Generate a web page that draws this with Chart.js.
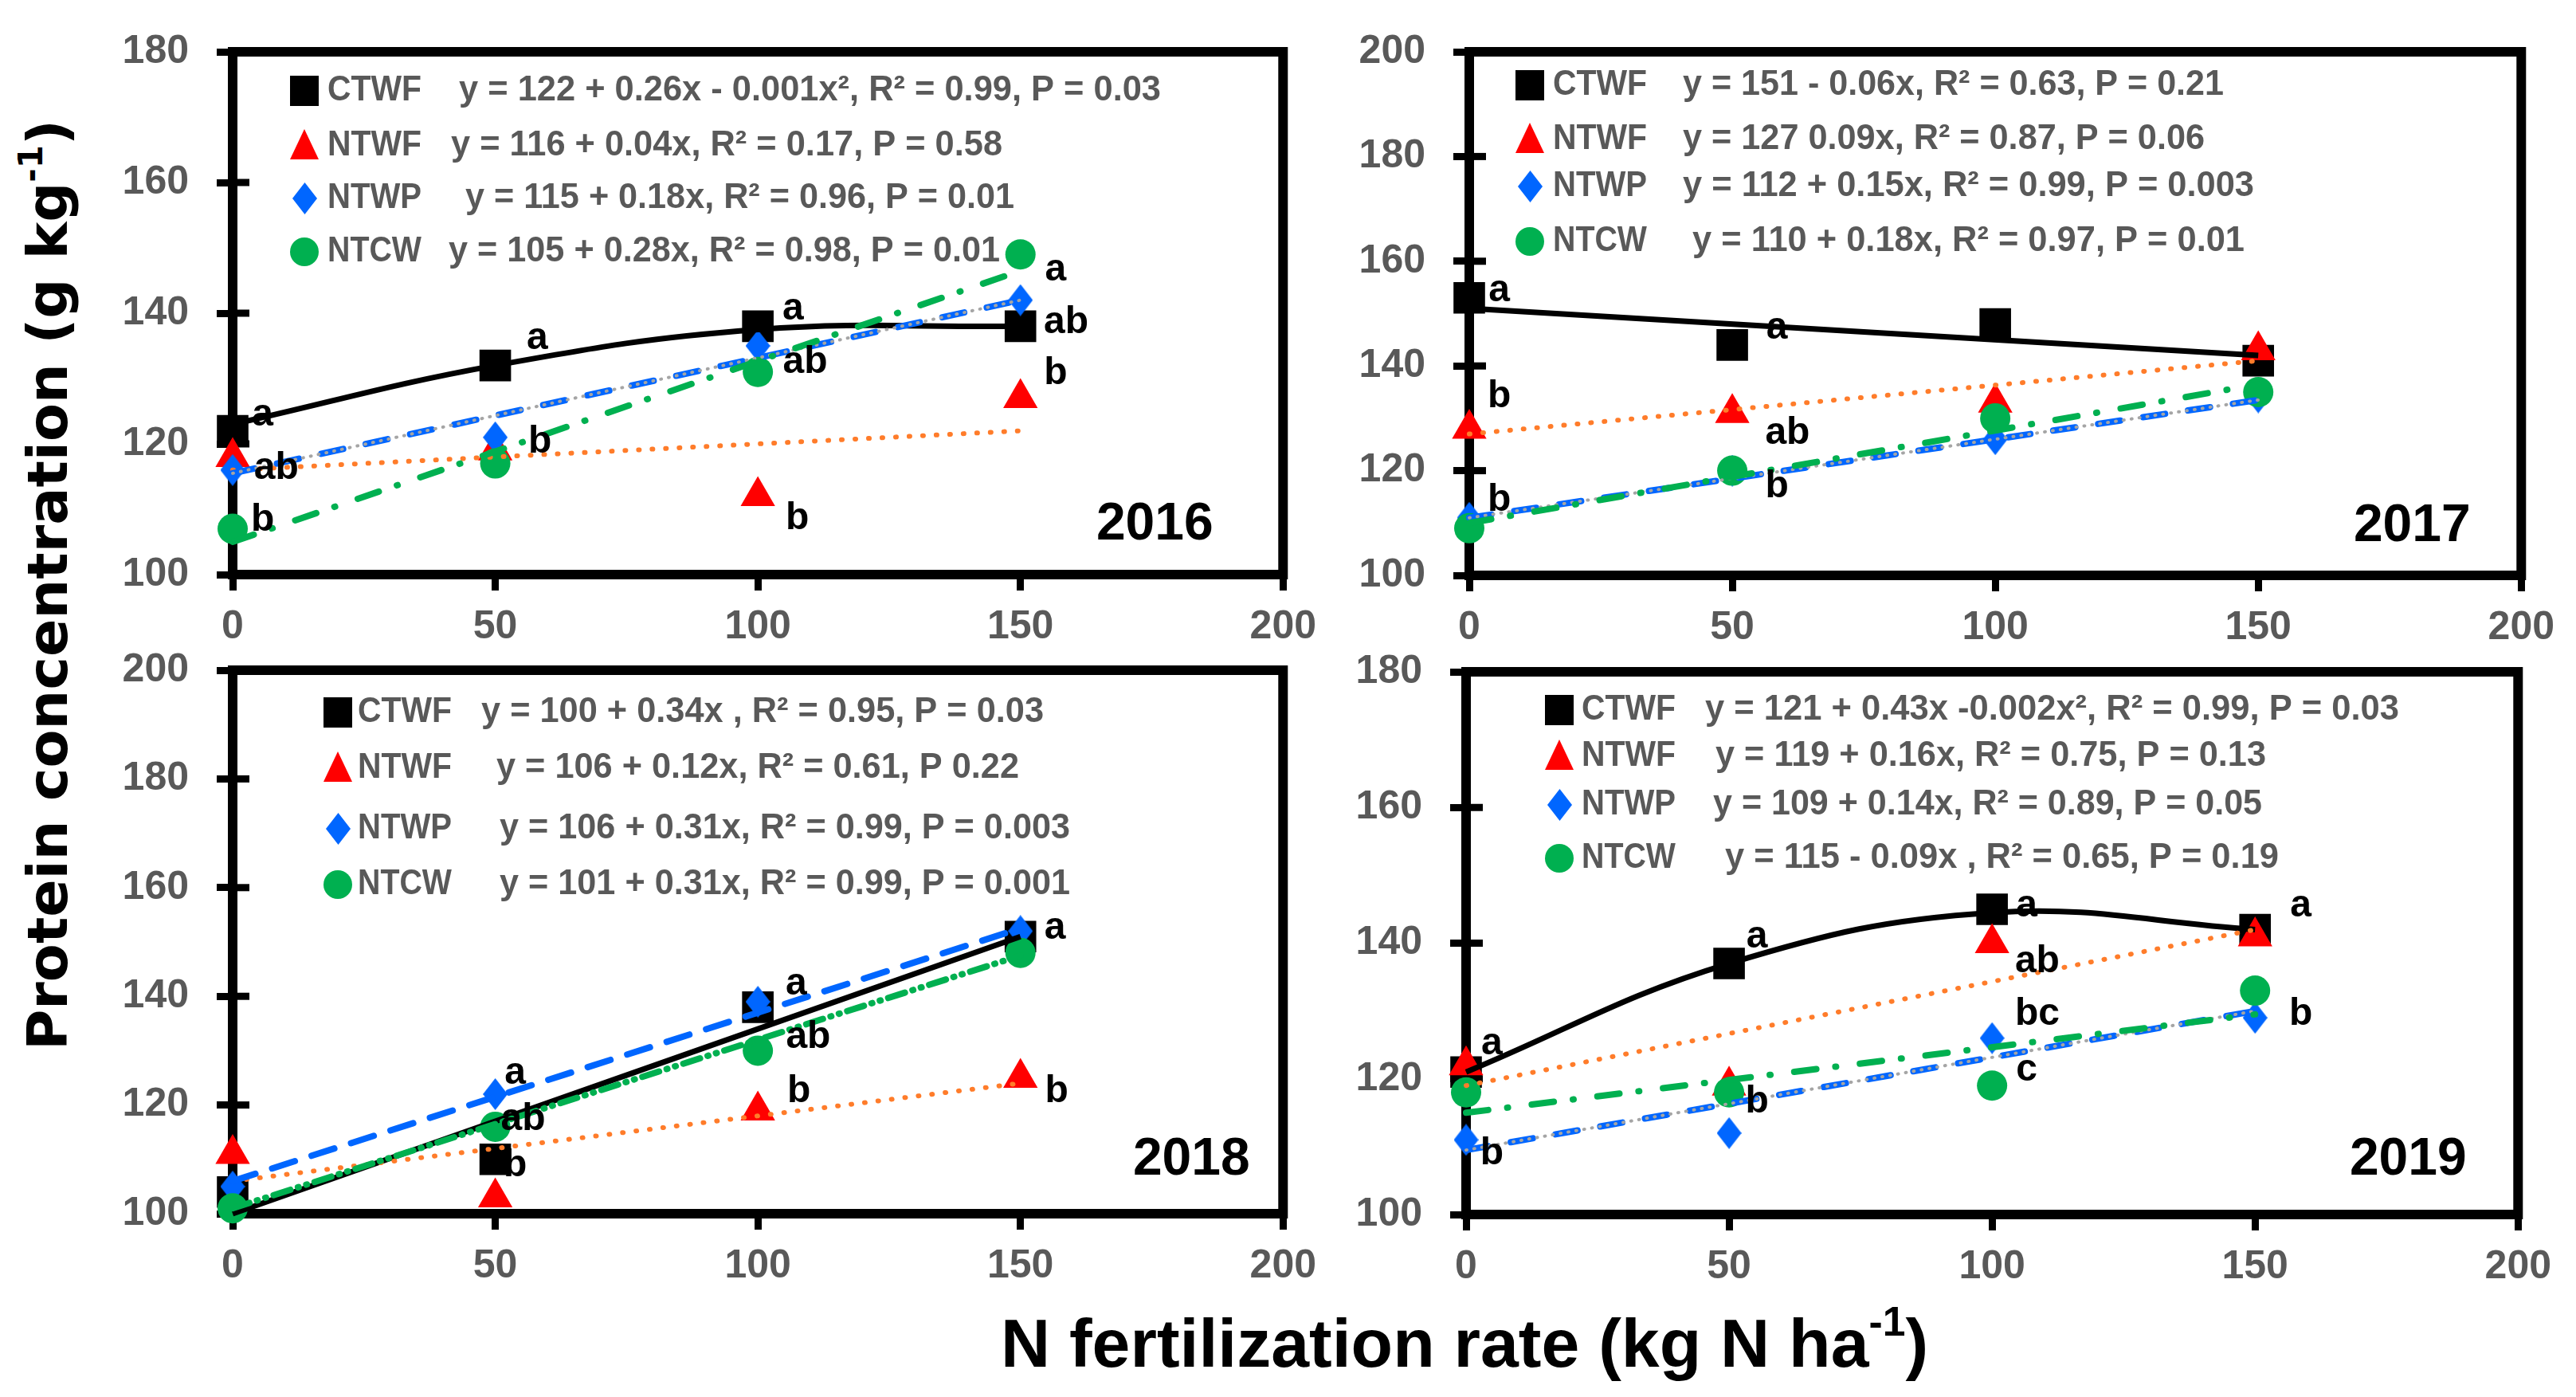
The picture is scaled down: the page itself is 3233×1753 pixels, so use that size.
<!DOCTYPE html>
<html>
<head>
<meta charset="utf-8">
<script src="https://cdn.jsdelivr.net/npm/chart.js@4.4.1/dist/chart.umd.min.js"></script>
<style>
  html, body { margin: 0; padding: 0; background: #fff; }
  body { width: 3233px; height: 1753px; position: relative; overflow: hidden; }
  canvas { position: absolute; }
  .ytitle {
    position: absolute; left: 60px; top: 734px;
    transform: translate(-50%, -50%) rotate(-90deg);
    font: bold 70px "DejaVu Sans", sans-serif; white-space: nowrap; color: #000;
  }
  .xtitle {
    position: absolute; left: 1838px; top: 1642px; transform: translateX(-50%);
    font: bold 86px "Liberation Sans", Arial, sans-serif; line-height: 86px;
    white-space: nowrap; color: #000;
  }
  sup { font-size: 0.6em; line-height: 0; vertical-align: 0.75em; }
</style>
</head>
<body>
<canvas id="c16"></canvas>
<canvas id="c17"></canvas>
<canvas id="c18"></canvas>
<canvas id="c19"></canvas>
<div class="ytitle">Protein concentration (g kg<sup>-1</sup>)</div>
<div class="xtitle">N fertilization rate (kg N ha<sup>-1</sup>)</div>

<script>
'use strict';

/* ---------- data ---------- */
const nRate = [0, 50, 100, 150];
const fitEnds = [0, 150];
const xTicks = [0, 50, 100, 150, 200];
const names = ['CTWF', 'NTWF', 'NTWP', 'NTCW'];

// 2016
const ctwf16 = [122, 132, 138, 138];
const ntwf16 = [118, 119, 112, 127];
const ntwp16 = [116, 121, 135, 142];
const ntcw16 = [107, 117, 131, 149];
const ctwf16Fit = [123, 132, 137.5, 138];
const ntwf16Fit = [116, 122];
const ntwp16Fit = [115.5, 142];
const ntcw16Fit = [105, 146.5];
const eq16 = ['y = 122 + 0.26x - 0.001x\u00b2, R\u00b2 = 0.99, P = 0.03',
              'y = 116 + 0.04x, R\u00b2 = 0.17, P = 0.58',
              'y = 115 + 0.18x, R\u00b2 = 0.96, P = 0.01',
              'y = 105 + 0.28x, R\u00b2 = 0.98, P = 0.01'];
const sig16 = [[5.7, 124.4, 'a'], [8.3, 116.3, 'ab'], [5.7, 108.3, 'b'],
               [58, 136.1, 'a'], [58.5, 120.3, 'b'],
               [106.7, 140.6, 'a'], [109, 132.5, 'ab'], [107.5, 108.6, 'b'],
               [156.7, 146.6, 'a'], [158.7, 138.6, 'ab'], [156.7, 130.7, 'b']];

// 2017
const ctwf17 = [153, 144, 148, 141];
const ntwf17 = [128, 131, 133, 143];
const ntwp17 = [111, 120, 126, 134];
const ntcw17 = [109, 120, 130, 135];
const ctwf17Fit = [151, 142];
const ntwf17Fit = [127, 141];
const ntwp17Fit = [111, 133.5];
const ntcw17Fit = [110, 136.5];
const eq17 = ['y = 151 - 0.06x, R\u00b2 = 0.63, P = 0.21',
              'y = 127 0.09x, R\u00b2 = 0.87, P = 0.06',
              'y = 112 + 0.15x, R\u00b2 = 0.99, P = 0.003',
              'y = 110 + 0.18x, R\u00b2 = 0.97, P = 0.01'];
const sig17 = [[5.7, 154.3, 'a'], [58.5, 147.2, 'a'], [5.7, 134.2, 'b'],
               [60.5, 127.1, 'ab'], [5.7, 114.4, 'b'], [58.5, 117, 'b']];

// 2018
const ctwf18 = [104, 110, 138, 151];
const ntwf18 = [111, 103, 119, 125];
const ntwp18 = [105, 122, 139, 152];
const ntcw18 = [101, 116, 130, 148];
const ctwf18Fit = [100, 151];
const ntwf18Fit = [106, 124];
const ntwp18Fit = [106, 152.5];
const ntcw18Fit = [101, 147.5];
const eq18 = ['y = 100 + 0.34x , R\u00b2 = 0.95, P = 0.03',
              'y = 106 + 0.12x, R\u00b2 = 0.61, P 0.22',
              'y = 106 + 0.31x, R\u00b2 = 0.99, P = 0.003',
              'y = 101 + 0.31x, R\u00b2 = 0.99, P = 0.001'];
const sig18 = [[156.6, 152.5, 'a'], [107.3, 142.3, 'a'], [109.6, 132.5, 'ab'],
               [107.8, 122.4, 'b'], [156.9, 122.4, 'b'],
               [53.8, 125.8, 'a'], [55.3, 117.4, 'ab'], [53.8, 108.9, 'b']];

// 2019
const ctwf19 = [121, 137, 145, 142];
const ntwf19 = [122, 119, 140, 141];
const ntwp19 = [111, 112, 126, 129];
const ntcw19 = [118, 118, 119, 133];
const ctwf19Fit = [121, 137, 144.5, 142];
const ntwf19Fit = [119, 142];
const ntwp19Fit = [109.5, 130];
const ntcw19Fit = [115, 129.5];
const eq19 = ['y = 121 + 0.43x -0.002x\u00b2, R\u00b2 = 0.99, P = 0.03',
              'y = 119 + 0.16x, R\u00b2 = 0.75, P = 0.13',
              'y = 109 + 0.14x, R\u00b2 = 0.89, P = 0.05',
              'y = 115 - 0.09x , R\u00b2 = 0.65, P = 0.19'];
const sig19 = [[4.9, 125.2, 'a'], [4.9, 108.9, 'b'], [55.3, 140.9, 'a'], [55.3, 116.6, 'b'],
               [106.6, 145.5, 'a'], [108.6, 137.3, 'ab'], [108.6, 129.5, 'bc'], [106.6, 121.3, 'c'],
               [158.7, 145.5, 'a'], [158.7, 129.5, 'b']];

/* ---------- look ---------- */
const BLACK = '#000000', RED = '#ff0000', BLUE = '#0066ff', GREEN = '#00b050',
      ORANGE = '#ff7c2a', GREY = '#a5a5a5', TXT = '#595959';
const FONT = '"Liberation Sans", Arial, sans-serif';

function makeDiamond(w, h, color) {
    const c = document.createElement('canvas');
    c.width = w; c.height = h;
    const g = c.getContext('2d');
    g.fillStyle = color;
    g.beginPath();
    g.moveTo(w / 2, 0); g.lineTo(w, h / 2); g.lineTo(w / 2, h); g.lineTo(0, h / 2);
    g.closePath(); g.fill();
    return c;
}
const diamond = makeDiamond(31, 40, BLUE);

function pts(vals) { return vals.map((v, i) => ({ x: nRate[i], y: v })); }
function fit(vals) {
    const xs = vals.length === nRate.length ? nRate : fitEnds;
    return vals.map((v, i) => ({ x: xs[i], y: v }));
}

// legend marker drawn by hand (same shapes as the points)
function drawMarker(ctx, k, x, y) {
    ctx.save();
    if (k === 0) { ctx.fillStyle = BLACK; ctx.fillRect(x - 18, y - 19, 36, 38); }
    if (k === 1) {
        ctx.fillStyle = RED; ctx.beginPath();
        ctx.moveTo(x, y - 21); ctx.lineTo(x + 18, y + 17); ctx.lineTo(x - 18, y + 17);
        ctx.closePath(); ctx.fill();
    }
    if (k === 2) ctx.drawImage(diamond, x - 15, y - 20);
    if (k === 3) { ctx.fillStyle = GREEN; ctx.beginPath(); ctx.arc(x, y, 18, 0, Math.PI * 2); ctx.fill(); }
    ctx.restore();
}

function decor(p) {
    return {
        id: 'decor' + p.id,
        beforeDatasetsDraw(chart) {
            const { ctx, chartArea: a } = chart;
            const y = chart.scales.y;
            ctx.save();
            ctx.strokeStyle = BLACK;
            ctx.lineWidth = 12;
            ctx.strokeRect(a.left, a.top, a.right - a.left, a.bottom - a.top);
            ctx.lineWidth = 9;
            y.ticks.forEach(t => {
                const py = y.getPixelForValue(t.value);
                ctx.beginPath(); ctx.moveTo(a.left, py); ctx.lineTo(a.left + 21, py); ctx.stroke();
            });
            ctx.restore();
        },
        afterDatasetsDraw(chart) {
            const { ctx, chartArea: a } = chart;
            const xs = chart.scales.x, ys = chart.scales.y;
            ctx.save();
            // significance letters
            ctx.fillStyle = BLACK;
            ctx.font = 'bold 48px ' + FONT;
            ctx.textAlign = 'center'; ctx.textBaseline = 'middle';
            p.sig.forEach(s => ctx.fillText(s[2], xs.getPixelForValue(s[0]), ys.getPixelForValue(s[1])));
            // legend with fitted equations (squeezed to the widths seen in the figure)
            ctx.font = 'bold 45px ' + FONT;
            ctx.textAlign = 'left';
            names.forEach((nm, i) => {
                const ry = a.top + p.leg.rows[i];
                drawMarker(ctx, i, a.left + p.leg.mx, ry);
                ctx.fillStyle = TXT;
                ctx.fillText(nm, a.left + p.leg.nx, ry, 118);
                ctx.fillText(p.eq[i], a.left + p.leg.ex[i], ry, p.leg.ew[i]);
            });
            // year
            ctx.fillStyle = BLACK;
            ctx.font = 'bold 66px ' + FONT;
            ctx.textAlign = 'center';
            ctx.fillText(p.year, a.right + p.yr[0], a.bottom + p.yr[1]);
            ctx.restore();
        }
    };
}

function buildPanel(p) {
    const cv = document.getElementById(p.id);
    const [L, T, W, H] = p.box;
    cv.width = W; cv.height = H;
    cv.style.left = L + 'px'; cv.style.top = T + 'px';
    cv.style.width = W + 'px'; cv.style.height = H + 'px';

    const datasets = [
        { data: pts(p.m[0]), showLine: false, pointStyle: 'rect', pointRadius: 28,
          backgroundColor: BLACK, borderWidth: 0, order: 9 },
        { data: pts(p.m[1]), showLine: false, pointStyle: 'triangle', pointRadius: 25,
          backgroundColor: RED, borderWidth: 0, order: 8 },
        { data: pts(p.m[2]), showLine: false, pointStyle: diamond, pointRadius: 20,
          backgroundColor: BLUE, borderWidth: 0, order: 7 },
        { data: pts(p.m[3]), showLine: false, pointStyle: 'circle', pointRadius: 19,
          backgroundColor: GREEN, borderWidth: 0, order: 6 },
        { data: fit(p.f[0]), showLine: true, pointRadius: 0, borderColor: BLACK,
          borderWidth: 7, tension: 0.4, order: 5 },
        { data: fit(p.f[1]), showLine: true, pointRadius: 0, borderColor: ORANGE,
          borderWidth: 6, borderDash: [1, 16], borderCapStyle: 'round', order: 4 },
        { data: fit(p.f[2]), showLine: true, pointRadius: 0, borderColor: BLUE,
          borderWidth: 8, borderDash: p.blueDash, borderCapStyle: 'round', order: 3 },
        { data: fit(p.f[3]), showLine: true, pointRadius: 0, borderColor: GREEN,
          borderWidth: 8, borderDash: p.greenDash, borderCapStyle: 'round', order: 1 }
    ];
    if (p.grey) {
        datasets.push({ data: fit(p.f[2]), showLine: true, pointRadius: 0, borderColor: GREY,
            borderWidth: 4, borderDash: [1, 9], borderCapStyle: 'round', order: 2 });
    }
    datasets.forEach(d => { d.clip = false; d.fill = false; });

    new Chart(cv, {
        type: 'scatter',
        data: { datasets },
        options: {
            responsive: false,
            animation: false,
            events: [],
            layout: { padding: { left: 0, top: p.pad, right: 45, bottom: 0 } },
            plugins: { legend: { display: false }, tooltip: { enabled: false } },
            scales: {
                x: {
                    type: 'linear', min: 0, max: 200,
                    afterBuildTicks: s => { s.ticks = xTicks.map(v => ({ value: v })); },
                    afterFit: s => { s.height = 90; },
                    grid: { drawOnChartArea: false, drawTicks: true, tickLength: 20,
                            lineWidth: 9, color: BLACK },
                    border: { display: true, width: 12, color: BLACK },
                    ticks: { color: TXT, padding: 16, maxRotation: 0,
                             font: { family: FONT, size: 50, weight: 'bold' } }
                },
                y: {
                    type: 'linear', min: 100, max: p.yMax,
                    ticks: { stepSize: 20, color: TXT, padding: 35,
                             font: { family: FONT, size: 50, weight: 'bold' } },
                    afterFit: s => { s.width = 142; },
                    grid: { drawOnChartArea: false, drawTicks: true, tickLength: 20,
                            lineWidth: 9, color: BLACK },
                    border: { display: true, width: 12, color: BLACK }
                }
            }
        },
        plugins: [decor(p)]
    });
}

buildPanel({
    id: 'c16', box: [150, 0, 1518, 811], pad: 40, yMax: 180, year: '2016', yr: [-161, -62],
    m: [ctwf16, ntwf16, ntwp16, ntcw16], f: [ctwf16Fit, ntwf16Fit, ntwp16Fit, ntcw16Fit],
    eq: eq16, sig: sig16, grey: true, blueDash: [28, 29], greenDash: [28, 24, 1, 30],
    leg: { mx: 90, nx: 119, rows: [49, 118, 184, 251], ex: [284, 274, 292, 271], ew: [881, 692, 689, 692] }
});
buildPanel({
    id: 'c17', box: [1702, 0, 1520, 812], pad: 40, yMax: 200, year: '2017', yr: [-137, -61],
    m: [ctwf17, ntwf17, ntwp17, ntcw17], f: [ctwf17Fit, ntwf17Fit, ntwp17Fit, ntcw17Fit],
    eq: eq17, sig: sig17, grey: true, blueDash: [28, 29], greenDash: [28, 24, 1, 30],
    leg: { mx: 76, nx: 105, rows: [42, 110, 169, 238], ex: [268, 268, 268, 280], ew: [679, 655, 717, 693] }
});
buildPanel({
    id: 'c18', box: [150, 760, 1518, 853], pad: 81, yMax: 200, year: '2018', yr: [-115, -67],
    m: [ctwf18, ntwf18, ntwp18, ntcw18], f: [ctwf18Fit, ntwf18Fit, ntwp18Fit, ntcw18Fit],
    eq: eq18, sig: sig18, grey: false, blueDash: [30, 22], greenDash: [22, 10, 1, 10, 1, 10],
    leg: { mx: 132, nx: 157, rows: [53, 123, 199, 269], ex: [312, 331, 335, 335], ew: [706, 656, 716, 716] }
});
buildPanel({
    id: 'c19', box: [1698, 760, 1520, 854], pad: 83, yMax: 180, year: '2019', yr: [-138, -68],
    m: [ctwf19, ntwf19, ntwp19, ntcw19], f: [ctwf19Fit, ntwf19Fit, ntwp19Fit, ntcw19Fit],
    eq: eq19, sig: sig19, grey: true, blueDash: [28, 29], greenDash: [28, 24, 1, 30],
    leg: { mx: 117, nx: 145, rows: [48, 106, 167, 234], ex: [300, 313, 310, 325], ew: [871, 691, 689, 695] }
});
</script>
</body>
</html>
